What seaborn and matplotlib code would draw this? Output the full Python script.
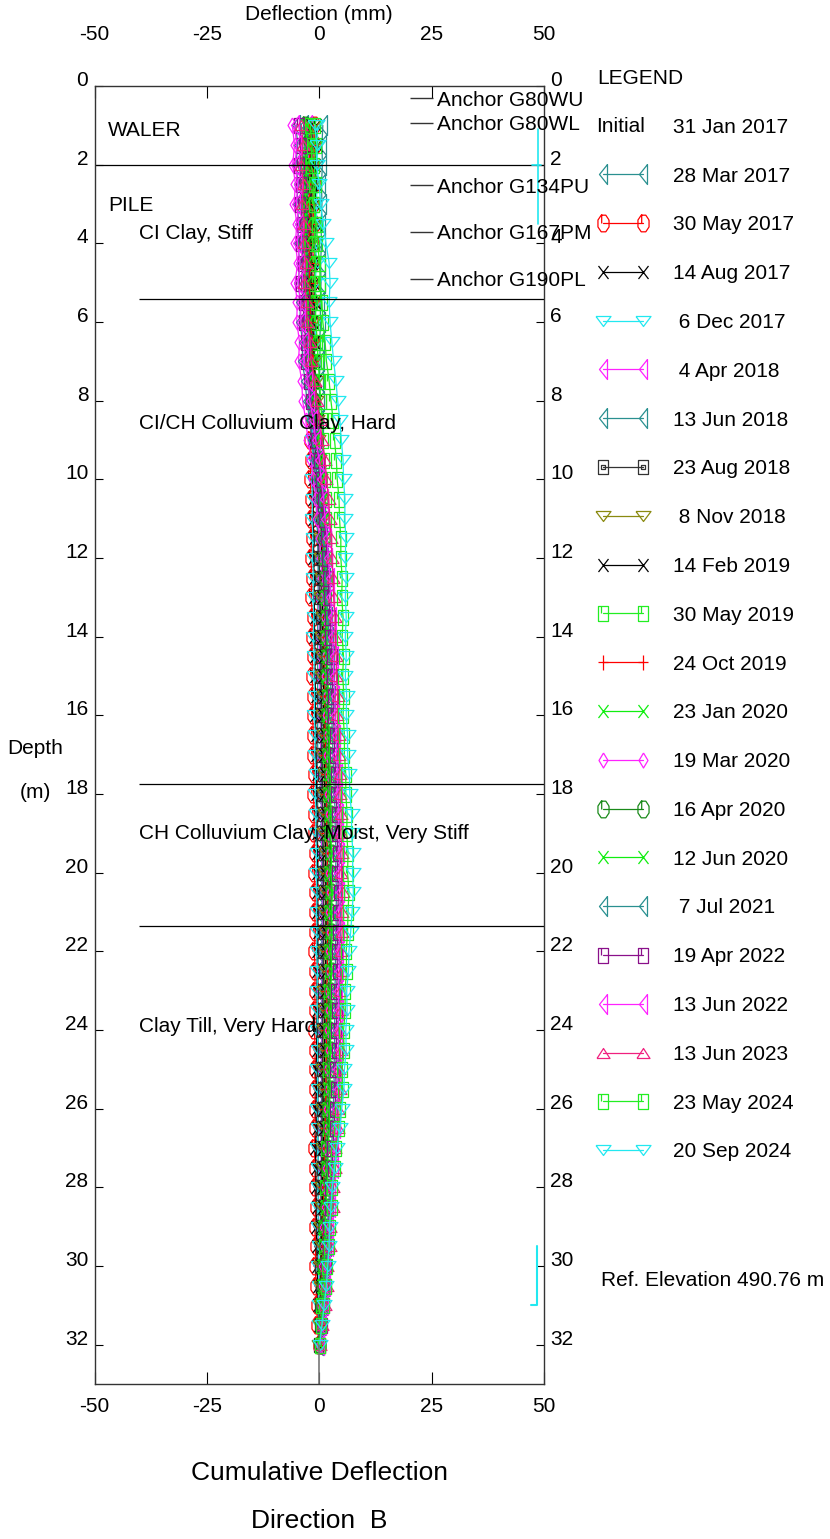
import numpy as np
import pandas as pd
import matplotlib
matplotlib.use("Agg")
import matplotlib.pyplot as plt
import matplotlib.transforms as mtransforms
import seaborn as sns
from matplotlib.path import Path
from matplotlib.lines import Line2D

# DATA: depth of each reading (m)
depth = [1.0, 1.5, 2.0, 2.5, 3.0, 3.5, 4.0, 4.5, 5.0, 5.5,
         6.0, 6.5, 7.0, 7.5, 8.0, 8.5, 9.0, 9.5, 10.0, 10.5,
         11.0, 11.5, 12.0, 12.5, 13.0, 13.5, 14.0, 14.5, 15.0, 15.5,
         16.0, 16.5, 17.0, 17.5, 18.0, 18.5, 19.0, 19.5, 20.0, 20.5,
         21.0, 21.5, 22.0, 22.5, 23.0, 23.5, 24.0, 24.5, 25.0, 25.5,
         26.0, 26.5, 27.0, 27.5, 28.0, 28.5, 29.0, 29.5, 30.0, 30.5,
         31.0, 31.5, 32.0]

# DATA: cumulative deflection (mm), one list per reading date
d_2017_03_28 = [0.8, 0.6, 0.7, 0.5, 0.6, 0.4, 0.5, 0.3, 0.4, 0.2,
                0.3, 0.1, 0.2, 0.0, 0.1, -0.1, 0.0, -0.2, -0.1, -0.2,
                -0.1, -0.3, -0.2, -0.3, -0.2, -0.4, -0.3, -0.4, -0.3, -0.4,
                -0.3, -0.4, -0.3, -0.5, -0.4, -0.3, -0.4, -0.3, -0.2, -0.3,
                -0.2, -0.3, -0.2, -0.3, -0.2, -0.3, -0.2, -0.3, -0.2, -0.3,
                -0.2, -0.3, -0.2, -0.2, -0.1, -0.2, -0.1, -0.2, -0.1, -0.1,
                0.0, -0.1, 0.0]
d_2017_05_30 = [-1.2, -1.0, -1.3, -1.1, -1.4, -1.2, -1.5, -1.3, -1.6, -1.4,
                -1.7, -1.5, -1.8, -1.6, -1.9, -1.7, -2.0, -1.8, -2.0, -1.8,
                -1.9, -1.7, -1.9, -1.6, -1.8, -1.5, -1.7, -1.5, -1.6, -1.4,
                -1.5, -1.3, -1.4, -1.2, -1.3, -1.1, -1.2, -1.0, -1.1, -0.9,
                -1.0, -0.9, -1.1, -0.9, -1.0, -0.9, -1.1, -0.9, -1.0, -0.9,
                -1.0, -0.9, -1.1, -0.9, -1.0, -0.8, -1.0, -0.8, -0.9, -0.7,
                -0.6, -0.4, -0.1]
d_2017_08_14 = [-0.8, -0.6, -0.9, -0.7, -1.0, -0.8, -1.1, -0.9, -1.2, -1.0,
                -1.3, -1.1, -1.4, -1.2, -1.5, -1.3, -1.6, -1.4, -1.5, -1.3,
                -1.4, -1.2, -1.3, -1.1, -1.2, -1.0, -1.1, -0.9, -1.0, -0.8,
                -0.9, -0.7, -0.8, -0.6, -0.7, -0.5, -0.6, -0.4, -0.5, -0.4,
                -0.5, -0.3, -0.5, -0.4, -0.6, -0.4, -0.7, -0.5, -0.8, -0.6,
                -0.8, -0.6, -0.9, -0.7, -0.8, -0.6, -0.7, -0.5, -0.5, -0.3,
                -0.3, -0.1, 0.0]
d_2017_12_06 = [-0.5, -0.3, -0.6, -0.4, -0.7, -0.5, -0.8, -0.6, -0.9, -0.7,
                -1.0, -0.8, -1.2, -1.0, -1.4, -1.3, -1.6, -1.4, -1.7, -1.5,
                -1.6, -1.4, -1.5, -1.3, -1.4, -1.2, -1.3, -1.1, -1.2, -1.0,
                -1.1, -0.9, -1.0, -0.8, -0.9, -0.7, -0.8, -0.6, -0.7, -0.5,
                -0.6, -0.5, -0.6, -0.4, -0.5, -0.4, -0.5, -0.3, -0.4, -0.3,
                -0.4, -0.3, -0.4, -0.2, -0.3, -0.2, -0.3, -0.1, -0.2, -0.1,
                -0.1, 0.0, 0.0]
d_2018_04_04 = [-2.5, -2.2, -2.6, -2.3, -2.7, -2.4, -2.8, -2.5, -2.7, -2.4,
                -2.6, -2.2, -2.3, -1.9, -1.8, -1.4, -1.2, -0.8, -0.7, -0.4,
                -0.5, -0.2, -0.3, 0.0, -0.2, 0.1, -0.1, 0.2, 0.0, 0.3,
                0.1, 0.4, 0.2, 0.5, 0.3, 0.6, 0.4, 0.7, 0.5, 0.8,
                0.6, 0.8, 0.6, 0.7, 0.5, 0.7, 0.5, 0.6, 0.4, 0.6,
                0.4, 0.5, 0.3, 0.5, 0.3, 0.4, 0.2, 0.3, 0.2, 0.2,
                0.1, 0.1, 0.0]
d_2018_06_13 = [-3.5, -3.2, -3.6, -3.3, -3.7, -3.4, -3.6, -3.3, -3.5, -3.2,
                -3.3, -2.9, -2.9, -2.5, -2.3, -1.9, -1.6, -1.2, -1.0, -0.7,
                -0.6, -0.3, -0.3, 0.0, -0.1, 0.2, 0.1, 0.4, 0.2, 0.5,
                0.3, 0.6, 0.4, 0.7, 0.5, 0.8, 0.6, 0.9, 0.7, 1.0,
                0.8, 1.0, 0.7, 0.9, 0.7, 0.8, 0.6, 0.8, 0.6, 0.7,
                0.5, 0.7, 0.5, 0.6, 0.4, 0.5, 0.3, 0.4, 0.3, 0.3,
                0.2, 0.1, 0.0]
d_2018_08_23 = [-2.0, -1.8, -2.1, -1.9, -2.2, -2.0, -2.3, -2.1, -2.2, -2.0,
                -2.1, -1.8, -1.8, -1.5, -1.4, -1.1, -1.0, -0.7, -0.6, -0.3,
                -0.3, 0.0, -0.1, 0.2, 0.1, 0.4, 0.2, 0.5, 0.3, 0.6,
                0.4, 0.7, 0.5, 0.8, 0.6, 0.9, 0.7, 1.0, 0.8, 1.1,
                0.9, 1.1, 0.8, 1.0, 0.8, 0.9, 0.7, 0.9, 0.6, 0.8,
                0.6, 0.7, 0.5, 0.6, 0.4, 0.5, 0.3, 0.4, 0.2, 0.3,
                0.2, 0.1, 0.0]
d_2018_11_08 = [-1.5, -1.2, -1.6, -1.3, -1.7, -1.4, -1.8, -1.5, -1.7, -1.4,
                -1.5, -1.1, -1.1, -0.8, -0.7, -0.4, -0.3, 0.0, 0.1, 0.3,
                0.3, 0.5, 0.4, 0.7, 0.5, 0.8, 0.6, 0.9, 0.7, 1.0,
                0.8, 1.1, 0.9, 1.2, 1.0, 1.3, 1.1, 1.4, 1.2, 1.5,
                1.3, 1.5, 1.2, 1.4, 1.1, 1.3, 1.0, 1.2, 0.9, 1.1,
                0.9, 1.0, 0.8, 0.9, 0.6, 0.7, 0.5, 0.6, 0.4, 0.4,
                0.3, 0.2, 0.0]
d_2019_02_14 = [-1.8, -1.5, -1.9, -1.6, -2.0, -1.7, -2.0, -1.7, -1.9, -1.6,
                -1.6, -1.2, -1.2, -0.8, -0.7, -0.3, -0.2, 0.1, 0.2, 0.4,
                0.4, 0.6, 0.5, 0.7, 0.6, 0.9, 0.7, 1.0, 0.8, 1.1,
                0.9, 1.2, 1.0, 1.3, 1.1, 1.4, 1.2, 1.5, 1.3, 1.6,
                1.4, 1.6, 1.3, 1.5, 1.2, 1.4, 1.1, 1.3, 1.0, 1.2,
                0.9, 1.1, 0.8, 0.9, 0.6, 0.8, 0.5, 0.6, 0.4, 0.4,
                0.3, 0.2, 0.0]
d_2019_05_30 = [-1.0, -0.7, -1.1, -0.8, -1.2, -0.9, -1.2, -0.9, -1.1, -0.8,
                -0.8, -0.4, -0.3, 0.1, 0.3, 0.6, 0.8, 1.1, 1.2, 1.4,
                1.4, 1.6, 1.5, 1.7, 1.6, 1.8, 1.7, 1.9, 1.8, 2.0,
                1.9, 2.1, 2.0, 2.3, 2.2, 2.5, 2.3, 2.6, 2.4, 2.7,
                2.5, 2.6, 2.3, 2.5, 2.2, 2.4, 2.1, 2.3, 2.0, 2.2,
                1.9, 2.0, 1.6, 1.7, 1.3, 1.4, 1.0, 1.1, 0.8, 0.8,
                0.5, 0.3, 0.1]
d_2019_10_24 = [-2.2, -1.9, -2.3, -2.0, -2.4, -2.1, -2.4, -2.1, -2.3, -2.0,
                -2.0, -1.6, -1.5, -1.1, -0.9, -0.5, -0.3, 0.0, 0.2, 0.5,
                0.6, 0.8, 0.7, 1.0, 0.9, 1.1, 1.0, 1.2, 1.1, 1.3,
                1.2, 1.4, 1.3, 1.6, 1.5, 1.8, 1.6, 1.9, 1.7, 2.0,
                1.8, 2.0, 1.7, 1.9, 1.6, 1.8, 1.5, 1.7, 1.4, 1.6,
                1.3, 1.4, 1.1, 1.2, 0.9, 1.0, 0.7, 0.8, 0.5, 0.5,
                0.4, 0.2, 0.0]
d_2020_01_23 = [-2.8, -2.5, -2.9, -2.6, -3.0, -2.7, -3.0, -2.7, -2.9, -2.5,
                -2.4, -1.9, -1.7, -1.2, -0.9, -0.5, -0.2, 0.2, 0.4, 0.7,
                0.8, 1.0, 1.0, 1.2, 1.1, 1.4, 1.3, 1.5, 1.4, 1.7,
                1.6, 1.8, 1.7, 2.0, 1.9, 2.2, 2.0, 2.3, 2.1, 2.4,
                2.2, 2.4, 2.1, 2.3, 2.0, 2.2, 1.9, 2.1, 1.8, 2.0,
                1.7, 1.8, 1.4, 1.5, 1.2, 1.2, 0.9, 1.0, 0.7, 0.7,
                0.5, 0.3, 0.1]
d_2020_03_19 = [-6.0, -5.5, -5.9, -5.3, -5.6, -5.0, -5.3, -4.8, -5.4, -4.9,
                -5.0, -4.4, -4.6, -3.9, -3.7, -3.0, -2.5, -1.8, -1.3, -0.7,
                -0.4, 0.1, 0.3, 0.7, 0.8, 1.2, 1.2, 1.5, 1.5, 1.8,
                1.7, 2.0, 1.9, 2.2, 2.1, 2.4, 2.2, 2.5, 2.3, 2.6,
                2.4, 2.6, 2.3, 2.5, 2.2, 2.4, 2.1, 2.3, 2.0, 2.2,
                1.9, 2.0, 1.6, 1.7, 1.3, 1.4, 1.0, 1.1, 0.8, 0.8,
                0.5, 0.3, 0.1]
d_2020_04_16 = [-3.2, -2.9, -3.3, -3.0, -3.4, -3.1, -3.4, -3.1, -3.3, -2.9,
                -2.8, -2.3, -2.1, -1.6, -1.2, -0.7, -0.4, 0.0, 0.3, 0.6,
                0.8, 1.0, 1.1, 1.3, 1.3, 1.5, 1.5, 1.7, 1.6, 1.9,
                1.8, 2.1, 2.0, 2.3, 2.2, 2.5, 2.3, 2.6, 2.4, 2.7,
                2.5, 2.7, 2.4, 2.6, 2.3, 2.5, 2.2, 2.4, 2.1, 2.3,
                2.0, 2.1, 1.7, 1.8, 1.4, 1.5, 1.1, 1.2, 0.9, 0.9,
                0.6, 0.3, 0.1]
d_2020_06_12 = [-3.0, -2.7, -3.1, -2.8, -3.2, -2.9, -3.2, -2.8, -3.0, -2.6,
                -2.5, -2.0, -1.8, -1.3, -0.9, -0.4, -0.1, 0.3, 0.6, 0.9,
                1.0, 1.2, 1.3, 1.5, 1.5, 1.7, 1.7, 1.9, 1.8, 2.1,
                2.0, 2.3, 2.2, 2.5, 2.4, 2.7, 2.5, 2.8, 2.6, 2.9,
                2.7, 2.9, 2.6, 2.8, 2.5, 2.7, 2.4, 2.6, 2.3, 2.5,
                2.2, 2.3, 1.9, 2.0, 1.6, 1.6, 1.2, 1.3, 1.0, 1.0,
                0.7, 0.4, 0.1]
d_2021_07_07 = [-5.2, -4.8, -5.2, -4.7, -5.0, -4.5, -4.8, -4.3, -4.7, -4.2,
                -4.3, -3.7, -3.8, -3.1, -2.8, -2.1, -1.6, -0.9, -0.5, 0.1,
                0.4, 0.9, 1.1, 1.5, 1.6, 2.0, 2.1, 2.4, 2.4, 2.7,
                2.7, 3.0, 3.0, 3.3, 3.3, 3.6, 3.5, 3.8, 3.6, 3.9,
                3.7, 3.8, 3.5, 3.7, 3.4, 3.6, 3.3, 3.5, 3.2, 3.4,
                3.0, 3.1, 2.6, 2.7, 2.2, 2.2, 1.7, 1.8, 1.3, 1.3,
                0.9, 0.5, 0.1]
d_2022_04_19 = [-4.5, -4.1, -4.5, -4.0, -4.3, -3.8, -4.1, -3.6, -4.0, -3.5,
                -3.5, -2.9, -2.9, -2.2, -1.9, -1.2, -0.8, -0.1, 0.3, 0.8,
                1.1, 1.5, 1.7, 2.0, 2.1, 2.4, 2.5, 2.8, 2.8, 3.1,
                3.1, 3.4, 3.4, 3.7, 3.7, 4.0, 3.9, 4.2, 4.0, 4.3,
                4.1, 4.2, 3.9, 4.1, 3.8, 4.0, 3.7, 3.9, 3.6, 3.8,
                3.4, 3.4, 2.9, 3.0, 2.4, 2.5, 1.9, 2.0, 1.5, 1.4,
                1.0, 0.6, 0.2]
d_2022_06_13 = [-5.5, -5.0, -5.4, -4.8, -5.1, -4.6, -4.9, -4.3, -4.7, -4.1,
                -4.1, -3.4, -3.3, -2.5, -2.1, -1.3, -0.8, 0.0, 0.4, 1.0,
                1.3, 1.8, 2.0, 2.4, 2.5, 2.8, 2.9, 3.2, 3.2, 3.5,
                3.5, 3.8, 3.8, 4.1, 4.1, 4.4, 4.3, 4.6, 4.4, 4.7,
                4.5, 4.6, 4.3, 4.5, 4.2, 4.4, 4.1, 4.3, 4.0, 4.2,
                3.8, 3.8, 3.3, 3.3, 2.7, 2.7, 2.1, 2.2, 1.6, 1.5,
                1.1, 0.6, 0.2]
d_2023_06_13 = [-4.0, -3.6, -4.0, -3.5, -3.8, -3.3, -3.5, -3.0, -3.3, -2.8,
                -2.7, -2.0, -1.8, -1.0, -0.6, 0.2, 0.6, 1.3, 1.6, 2.1,
                2.3, 2.7, 2.8, 3.1, 3.2, 3.5, 3.5, 3.8, 3.8, 4.1,
                4.0, 4.3, 4.3, 4.6, 4.6, 4.9, 4.8, 5.1, 4.9, 5.2,
                5.0, 5.1, 4.8, 5.0, 4.7, 4.9, 4.6, 4.8, 4.5, 4.6,
                4.2, 4.2, 3.6, 3.6, 3.0, 3.0, 2.4, 2.4, 1.8, 1.7,
                1.2, 0.7, 0.2]
d_2024_05_23 = [-2.0, -1.6, -1.8, -1.2, -1.2, -0.6, -0.4, 0.1, 0.2, 0.6,
                0.8, 1.3, 1.6, 2.2, 2.6, 3.1, 3.4, 3.8, 4.0, 4.4,
                4.5, 4.8, 4.8, 5.1, 5.0, 5.3, 5.1, 5.4, 5.2, 5.5,
                5.3, 5.6, 5.6, 5.9, 5.9, 6.2, 6.1, 6.4, 6.3, 6.6,
                6.4, 6.3, 6.0, 6.1, 5.7, 5.8, 5.4, 5.5, 5.1, 5.2,
                4.7, 4.5, 3.8, 3.6, 2.9, 2.8, 2.3, 2.2, 1.7, 1.5,
                1.0, 0.5, 0.1]
d_2024_09_20 = [-1.0, -0.5, -0.6, 0.0, 0.3, 0.9, 1.5, 2.2, 2.4, 2.2,
                2.4, 2.8, 3.2, 3.7, 4.1, 4.6, 4.9, 5.3, 5.4, 5.7,
                5.7, 5.9, 5.8, 6.0, 5.8, 6.0, 5.8, 6.0, 5.8, 6.1,
                6.0, 6.3, 6.3, 6.7, 6.8, 7.2, 7.2, 7.5, 7.4, 7.6,
                7.3, 7.0, 6.6, 6.5, 6.1, 6.2, 5.9, 6.0, 5.6, 5.5,
                5.0, 4.6, 3.9, 3.4, 2.9, 2.6, 2.3, 2.2, 1.9, 1.6,
                1.1, 0.6, 0.1]

series = [d_2017_03_28, d_2017_05_30, d_2017_08_14, d_2017_12_06, d_2018_04_04,
          d_2018_06_13, d_2018_08_23, d_2018_11_08, d_2019_02_14, d_2019_05_30,
          d_2019_10_24, d_2020_01_23, d_2020_03_19, d_2020_04_16, d_2020_06_12,
          d_2021_07_07, d_2022_04_19, d_2022_06_13, d_2023_06_13, d_2024_05_23,
          d_2024_09_20]
labels = ["28 Mar 2017", "30 May 2017", "14 Aug 2017", " 6 Dec 2017", " 4 Apr 2018",
          "13 Jun 2018", "23 Aug 2018", " 8 Nov 2018", "14 Feb 2019", "30 May 2019",
          "24 Oct 2019", "23 Jan 2020", "19 Mar 2020", "16 Apr 2020", "12 Jun 2020",
          " 7 Jul 2021", "19 Apr 2022", "13 Jun 2022", "13 Jun 2023", "23 May 2024",
          "20 Sep 2024"]
colors = ["#2A9090", "#FF0000", "#000000", "#22E8F0", "#FF22FF",
          "#2A9090", "#333333", "#8A8A10", "#000000", "#22EE22",
          "#FF0000", "#10EE10", "#FF22FF", "#1A8A1A", "#10EE10",
          "#2A9090", "#8A108A", "#FF22FF", "#F0207F", "#22EE22",
          "#22E8F0"]
markers = ["tri_left", "octagon", "cross", "tri_down", "tri_left",
           "tri_left", "square2", "tri_down", "cross", "square",
           "plus", "cross", "diamond", "octagon", "cross",
           "tri_left", "square", "tri_left", "tri_up", "square",
           "tri_down"]

initial_label = "31 Jan 2017"

# DATA: annotations
layer_depth = [2.0, 5.42, 17.75, 21.36]
layer_start = [-50, -40, -40, -40]
layer_names = ["WALER", "PILE", "CI Clay, Stiff", "CI/CH Colluvium Clay, Hard",
               "CH Colluvium Clay, Moist, Very Stiff", "Clay Till, Very Hard"]
layer_name_x = [-47, -47, -40, -40, -40, -40]
layer_name_depth = [1.14, 3.03, 3.74, 8.57, 19.0, 23.9]
anchor_names = ["Anchor G80WU", "Anchor G80WL", "Anchor G134PU", "Anchor G167PM", "Anchor G190PL"]
anchor_depth = [0.31, 0.94, 2.52, 3.71, 4.9]

# CONSTANT: marker shapes, half sizes in pixels (w, h)
def octagon(w, h):
    a = np.deg2rad(22.5 + 45 * np.arange(8))
    v = np.column_stack([w * np.cos(a), h * np.sin(a)])
    v = np.vstack([v, v[:1], [[-w * 0.3, h], [-w * 0.3, 0]]])
    c = [Path.MOVETO] + [Path.LINETO] * 8 + [Path.MOVETO, Path.LINETO]
    return Path(v, c)

def box(w, h, inner):
    v = [(-w, -h), (w, -h), (w, h), (-w, h), (-w, -h)]
    c = [Path.MOVETO] + [Path.LINETO] * 4
    if inner:
        v += [(-w * 0.4, -h * 0.3), (w * 0.4, -h * 0.3), (w * 0.4, h * 0.3), (-w * 0.4, h * 0.3), (-w * 0.4, -h * 0.3)]
        c += [Path.MOVETO] + [Path.LINETO] * 4
    else:
        v += [(-w * 0.4, h), (-w * 0.4, 0)]
        c += [Path.MOVETO, Path.LINETO]
    return Path(v, c)

MARKERS = {
    "tri_left": Path([(4, 10), (-4, 0), (4, -10), (4, 10)]),
    "tri_down": Path([(-7.5, 5), (7.5, 5), (0, -5), (-7.5, 5)]),
    "tri_up": Path([(-6.5, -5), (6.5, -5), (0, 5), (-6.5, -5)]),
    "diamond": Path([(0, 7.5), (4.5, 0), (0, -7.5), (-4.5, 0), (0, 7.5)]),
    "cross": Path([(-5, -6.5), (5, 6.5), (-5, 6.5), (5, -6.5)],
                  [Path.MOVETO, Path.LINETO, Path.MOVETO, Path.LINETO]),
    "plus": Path([(-5, 0), (5, 0), (0, 7.5), (0, -7.5)],
                 [Path.MOVETO, Path.LINETO, Path.MOVETO, Path.LINETO]),
    "octagon": octagon(6, 9),
    "square": box(5, 7.5, False),
    "square2": box(5, 7, True),
}

def msize(path):
    return 2 * np.abs(path.vertices).max() * 0.72

def fx(px):
    return px / 830

def fy(py):
    return 1 - py / 1539

# GRAPH: Settings
sns.set_theme(style="white")
plt.rcParams["font.family"] = ["Liberation Sans", "DejaVu Sans"]
plt.rcParams["axes.unicode_minus"] = False
plt.rcParams["text.color"] = "black"
FS = 15

fig = plt.figure(figsize=(8.3, 15.39), dpi=100)
ax = fig.add_axes([fx(94.5), fy(1384), fx(544) - fx(94.5), fy(86) - fy(1384)])

handles = []
for vals, lab, col, mk in zip(series, labels, colors, markers):
    df = pd.DataFrame({"defl": vals, "depth": depth})
    path = MARKERS[mk]
    sns.lineplot(data=df, x="defl", y="depth", orient="y", sort=False, estimator=None,
                 color=col, linewidth=0.9, marker=path, markersize=msize(path),
                 markerfacecolor="none", markeredgecolor=col, markeredgewidth=0.9,
                 ax=ax, legend=False)
    handles.append(ax.lines[-1])

# gray stub below last reading
ax.plot([0, 0], [depth[-1], 33], color="#777777", linewidth=1.2)

# layer boundaries and names
for d, x0 in zip(layer_depth, layer_start):
    ax.hlines(d, x0, 50, color="black", linewidth=0.9)
for name, x, d in zip(layer_names, layer_name_x, layer_name_depth):
    ax.text(x, d, name, fontsize=FS, va="center", ha="left", color="black")

# anchors
for name, d in zip(anchor_names, anchor_depth):
    ax.hlines(d, 20.1, 25.2, color="#333333", linewidth=1)
    ax.text(26.3, d + 0.05, name, fontsize=FS, va="center", ha="left", color="black")

# cyan brackets on the right edge
ax.plot([48.7, 48.7], [1.1, 3.5], color="#22E8F0", linewidth=1.2)
ax.plot([47.3, 49.3], [2.0, 2.0], color="#22E8F0", linewidth=1.2)
ax.plot([48.4, 48.4, 47.1], [29.5, 31.0, 31.0], color="#22E8F0", linewidth=1.5)

ax.set_xlim(-50, 50)
ax.set_ylim(33, 0)
ax.set_xticks([-50, -25, 0, 25, 50])
ax.set_yticks(np.arange(0, 33, 2))
ax.set_xlabel("")
ax.set_ylabel("")
ax.tick_params(axis="x", direction="in", length=8.6, width=0.8, top=True, bottom=True,
               labeltop=True, labelbottom=True, labelsize=FS, pad=9, colors="black")
ax.tick_params(axis="y", direction="in", length=5.8, width=0.8, left=True, right=True,
               labelleft=True, labelright=True, labelsize=FS, pad=4.5, colors="black")
for t in ax.yaxis.get_major_ticks():
    t.label1.set_va("baseline")
    t.label2.set_va("baseline")
for t in ax.xaxis.get_major_ticks():
    t.label2.set_transform(t.label2.get_transform()
                           + mtransforms.ScaledTranslation(0, 21.5 / 72, fig.dpi_scale_trans))
for s in ax.spines.values():
    s.set_visible(True)
    s.set_color("#333333")
    s.set_linewidth(1)

# legend
blank = Line2D([], [], color="none")
leg = fig.legend(handles=[blank] + handles, labels=[initial_label] + labels,
                 loc="upper left", bbox_to_anchor=(fx(597), fy(69)), frameon=False,
                 title="LEGEND", alignment="left", numpoints=2, fontsize=FS,
                 title_fontsize=FS, handlelength=2.5, handletextpad=1.15,
                 labelspacing=1.43, borderaxespad=0, borderpad=0)
for t in leg.get_texts():
    t.set_color("black")
leg.get_title().set_color("black")
fig.text(fx(596), fy(127), "Initial", fontsize=FS, va="center", ha="left", color="black")

# figure texts
fig.text(fx(319), fy(14), "Deflection (mm)", fontsize=FS, ha="center", va="center")
fig.text(fx(35), fy(748), "Depth", fontsize=FS, ha="center", va="center")
fig.text(fx(35), fy(792), "(m)", fontsize=FS, ha="center", va="center")
fig.text(fx(601), fy(1281), "Ref. Elevation 490.76 m", fontsize=FS, ha="left", va="center")
fig.text(fx(319), fy(1473), "Cumulative Deflection", fontsize=19, ha="center", va="center")
fig.text(fx(319), fy(1521), "Direction  B", fontsize=19, ha="center", va="center")

plt.savefig("out.png", dpi=100)
